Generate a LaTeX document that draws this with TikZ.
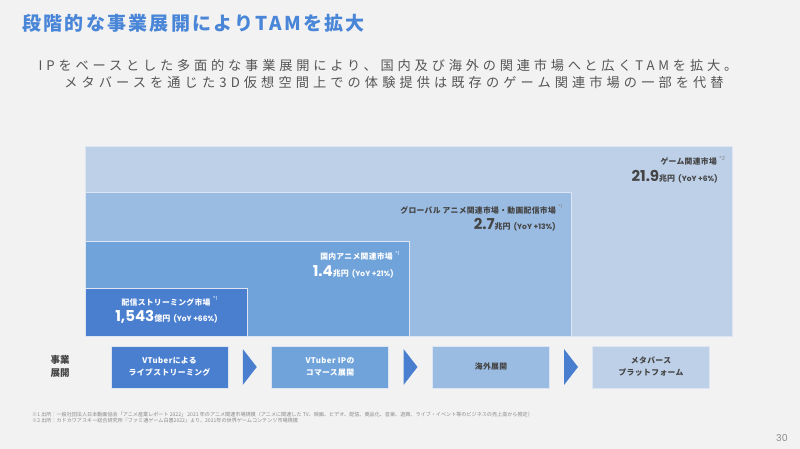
\documentclass[tikz,border=0pt]{standalone}
\usepackage{fontspec}
\usetikzlibrary{calc}
\setmainfont{Noto Sans CJK JP}
\newfontfamily\jp{Noto Sans CJK JP}
\newfontfamily\num{Poppins}
\definecolor{bg}{HTML}{F2F2F2}
\definecolor{c1}{HTML}{4A7FD0}
\definecolor{c2}{HTML}{6FA3DA}
\definecolor{c3}{HTML}{9BBCE2}
\definecolor{c4}{HTML}{BDD0E8}
\definecolor{edge}{HTML}{DCE5F1}
\definecolor{ttl}{HTML}{4A86D8}
\definecolor{txt}{HTML}{555555}
\definecolor{dk}{HTML}{444444}
\definecolor{ft}{HTML}{8A8A8A}
\tikzset{
  mbox/.style={draw=edge, line width=0.8pt, anchor=north west, inner sep=0pt, outer sep=0pt},
  mlbl/.style={inner sep=0pt, font=\jp\bfseries\fontsize{7.8}{9}\selectfont\addfontfeature{LetterSpace=4}},
  msup/.style={inner sep=0pt, font=\num\fontsize{5.5}{6}\selectfont},
  mnum/.style={inner sep=0pt},
  sbox/.style={draw=edge, line width=0.6pt, minimum width=117pt, minimum height=42pt, inner sep=0pt, align=center,
    font=\jp\bfseries\fontsize{7.8}{12}\selectfont\addfontfeature{LetterSpace=5}},
  tri/.style={fill=c1},
}
\newcommand{\bignum}[3]{{\num\bfseries\fontsize{15}{16}\selectfont #1}{\jp\bfseries\fontsize{8}{9}\selectfont #2}\hspace{3pt}{\num\bfseries\fontsize{7.5}{9}\selectfont #3}}
\begin{document}
\begin{tikzpicture}[x=1pt,y=-1pt]
\fill[bg] (0,0) rectangle (800,449);
\useasboundingbox (0,0) rectangle (800,449);

% title
\node[anchor=west, inner sep=0pt, text=ttl, font=\jp\bfseries\fontsize{19}{22}\selectfont\addfontfeature{LetterSpace=12}] (title) at (22,23.5) {段階的な事業展開によりTAMを拡大};

% subtitle
\node[inner sep=0pt, text=txt, font=\jp\fontsize{13.2}{16}\selectfont\addfontfeature{LetterSpace=29}] (sub1) at (388,65) {IPをベースとした多面的な事業展開により、国内及び海外の関連市場へと広くTAMを拡大。};
\node[inner sep=0pt, text=txt, font=\jp\fontsize{13.2}{16}\selectfont\addfontfeature{LetterSpace=31}] (sub2) at (394,82) {メタバースを通じた3D仮想空間上での体験提供は既存のゲーム関連市場の一部を代替};

% market boxes
\node[mbox, fill=c4, minimum width=647pt, minimum height=190pt] (game) at (85,146) {};
\node[mbox, fill=c3, minimum width=486pt, minimum height=144pt] (glob) at (85,192) {};
\node[mbox, fill=c2, minimum width=324pt, minimum height=95pt] (dom) at (85,241) {};
\node[mbox, fill=c1, minimum width=162pt, minimum height=48pt] (strm) at (85,288) {};

% game labels
\node[mlbl, anchor=east, text=dk] (gl) at (717,162) {ゲーム関連市場};
\node[msup, anchor=north west, text=ft] (gs) at ($(gl.north east)+(2,-1.5)$) {*2};
\node[mnum, anchor=east, text=dk] (gn) at (718,177) {\bignum{21.9}{兆円}{(YoY +6\%)}};

% global labels
\node[mlbl, anchor=east, text=dk] (ol) at (556,210) {グローバル アニメ関連市場・動画配信市場};
\node[msup, anchor=north west, text=ft] (os) at ($(ol.north east)+(2,-1.5)$) {*1};
\node[mnum, anchor=east, text=dk] (on) at (556,225) {\bignum{2.7}{兆円}{(YoY +13\%)}};

% domestic labels
\node[mlbl, anchor=east, text=white] (dl) at (393,257) {国内アニメ関連市場};
\node[msup, anchor=north west, text=white!85!c2] (ds) at ($(dl.north east)+(2,-1.5)$) {*1};
\node[mnum, anchor=east, text=white] (dn) at (394,272) {\bignum{1.4}{兆円}{(YoY +21\%)}};

% streaming labels
\node[mlbl, text=white] (sl) at (166,302) {配信ストリーミング市場};
\node[msup, anchor=north west, text=white!85!c1] (ss) at ($(sl.north east)+(2,-1.5)$) {*1};
\node[mnum, text=white] (sn) at (166.5,317) {\bignum{1,543}{億円}{(YoY +66\%)}};

% business development row
\node[inner sep=0pt, align=center, text=dk, font=\jp\bfseries\fontsize{9.5}{13}\selectfont] (biz) at (60,366.5) {事業\\展開};
\node[sbox, fill=c1, text=white] (b1) at (169.5,367) {VTuberによる\\ライブストリーミング};
\node[sbox, fill=c2, text=white] (b2) at (330,367) {VTuber IPの\\コマース展開};
\node[sbox, fill=c3, text=dk] (b3) at (491,367) {海外展開};
\node[sbox, fill=c4, text=dk] (b4) at (651,367) {メタバース\\プラットフォーム};

\coordinate (m1) at ($(b1.east)!0.5!(b2.west)$);
\coordinate (m2) at ($(b2.east)!0.5!(b3.west)$);
\coordinate (m3) at ($(b3.east)!0.5!(b4.west)$);
\foreach \m in {m1,m2,m3}{
  \fill[tri] ($(\m)+(-7,-18)$) -- ($(\m)+(7,0)$) -- ($(\m)+(-7,18)$) -- cycle;
}

% footnotes
\node[anchor=west, inner sep=0pt, text=ft, font=\jp\fontsize{5.1}{6}\selectfont] (f1) at (32,414.5) {※1 出所：一般社団法人日本動画協会「アニメ産業レポート 2022」 2021 年のアニメ関連市場規模（アニメに関連した TV、映画、ビデオ、配信、商品化、音楽、遊興、ライブ・イベント等のビジネスの売上高から推定）};
\node[anchor=west, inner sep=0pt, text=ft, font=\jp\fontsize{5.1}{6}\selectfont] (f2) at (32,421) {※2 出所：カドカワアスキー総合研究所『ファミ通ゲーム白書2022』より、2021年の世界ゲームコンテンツ市場規模};

% page number
\node[inner sep=0pt, text=ft, font=\num\fontsize{9.5}{11}\selectfont] (pg) at (782,438) {30};
\end{tikzpicture}
\end{document}
